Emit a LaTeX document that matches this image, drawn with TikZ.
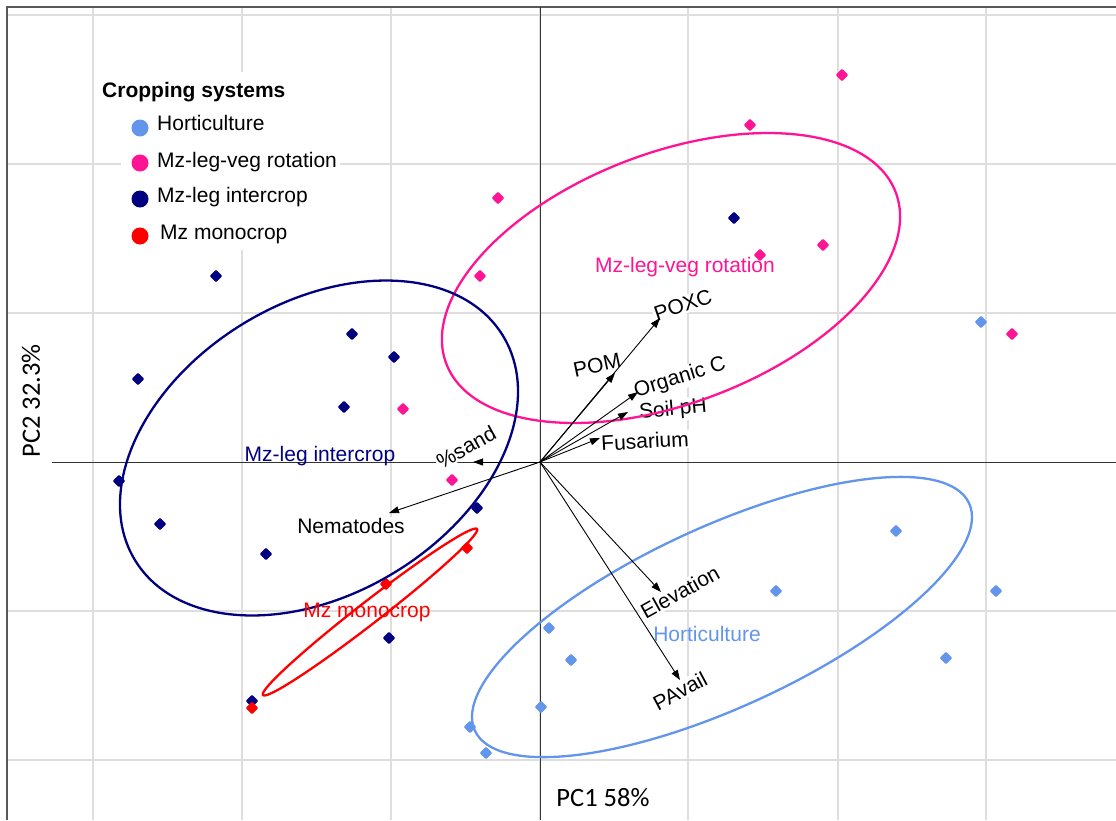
\documentclass[tikz,border=0pt]{standalone}
\usepackage{fontspec}
\setmainfont{Liberation Sans}
\newfontfamily\calibfont{Carlito}
\usetikzlibrary{arrows.meta}
\definecolor{hort}{HTML}{6495ED}
\definecolor{rotc}{HTML}{FF1493}
\definecolor{inter}{HTML}{000080}
\definecolor{mono}{HTML}{FF0000}
\definecolor{gridc}{HTML}{DEDEDE}
\begin{document}
\begin{tikzpicture}[x=1pt,y=-1pt,font=\fontsize{21}{25}\selectfont,
  gridline/.style={gridc,line width=1.5pt},
  axisline/.style={black!80,line width=1pt},
  borderline/.style={black!65,line width=1.6pt},
  vec/.style={-{Triangle[length=10pt,width=7pt]},line width=0.9pt,black},
  vlab/.style={fill=white,inner sep=1.5pt},
  grp/.style={line width=2.3pt},
  mk/.style={rounded corners=0.8pt}]
\useasboundingbox (0,0) rectangle (1116,820);
\clip (0,0) rectangle (1116,820);
\fill[white] (0,0) rectangle (1116,820);
% grid
\foreach \gx in {93,242,391,540,688,838,986}
  \draw[gridline] (\gx,7) -- (\gx,820);
\foreach \gy in {15,164,313,611,760}
  \draw[gridline] (7,\gy) -- (1116,\gy);
% border
\draw[borderline] (7,820) -- (7,7) -- (1116,7);
% axes
\draw[axisline] (52,462) -- (1116,462);
\draw[axisline] (540,7) -- (540,820);
% legend box
\fill[white] (121,72) rectangle (340,250);
\node[anchor=base west,inner sep=0] (legtitle) at (102,97) {\bfseries Cropping systems};
\fill[hort] (140,128) circle (8.5);
\fill[rotc] (140,163) circle (8.5);
\fill[inter] (140,199) circle (8.5);
\fill[mono] (140,236) circle (8.5);
\node[anchor=base west,inner sep=0] (leg1) at (157,130) {Horticulture};
\node[anchor=base west,inner sep=0] (leg2) at (157,167) {Mz-leg-veg rotation};
\node[anchor=base west,inner sep=0] (leg3) at (157,202) {Mz-leg intercrop};
\node[anchor=base west,inner sep=0] (leg4) at (160,239) {Mz monocrop};
% points
\foreach \px/\py in {216/276,352/334,394/357,138/379,344/407,119/481,160/524,266/554,477/508,389/638,252/701,734/218}
  \fill[inter,mk] (\px,\py) +(-6.3,0) -- +(0,-6.3) -- +(6.3,0) -- +(0,6.3) -- cycle;
\foreach \px/\py in {842/75,750/125,498/198,480/276,760/255,823/245,1012/334,403/409,452/480,673/376}
  \fill[rotc,mk] (\px,\py) +(-6.3,0) -- +(0,-6.3) -- +(6.3,0) -- +(0,6.3) -- cycle;
\foreach \px/\py in {467/548,386/584,252/708}
  \fill[mono,mk] (\px,\py) +(-6.3,0) -- +(0,-6.3) -- +(6.3,0) -- +(0,6.3) -- cycle;
\foreach \px/\py in {981/322,896/531,776/591,996/591,946/658,549/628,571/660,541/707,470/727,486/753}
  \fill[hort,mk] (\px,\py) +(-6.3,0) -- +(0,-6.3) -- +(6.3,0) -- +(0,6.3) -- cycle;
% axis titles
\node[fill=white,rotate=90,inner sep=2pt,font=\calibfont\fontsize{26.5}{30}\selectfont] (pc2) at (31,401) {PC2 32.3\%};
\node[inner sep=0,font=\calibfont\fontsize{26.5}{30}\selectfont] (pc1) at (603,798) {PC1 58\%};
% vector labels
\node[vlab,rotate=19] (lPOXC) at (683,305) {POXC};
\node[vlab,rotate=12] (lPOM) at (597,365) {POM};
\node[vlab,rotate=17] (lOrgC) at (680,378) {Organic C};
\node[vlab,rotate=5] (lpH) at (673,410) {Soil pH};
\node[vlab,rotate=3] (lFus) at (645,441) {Fusarium};
\node[vlab,rotate=29] (lsand) at (466,447) {\%sand};
\node[vlab] (lNem) at (351,526) {Nematodes};
\node[vlab,rotate=29] (lElev) at (680,592) {Elevation};
\node[vlab,rotate=28] (lPAv) at (680,691) {PAvail};
% ellipses
\draw[rotc,grp,rotate around={20.9:(671,278)}] (671,278) ellipse [x radius=240.5pt,y radius=125.1pt];
\draw[inter,grp,rotate around={31.4:(319,448)}] (319,448) ellipse [x radius=215.5pt,y radius=145.6pt];
\draw[hort,grp,rotate around={24.7:(722,617)}] (722,617) ellipse [x radius=272pt,y radius=90.2pt];
\draw[mono,grp,rotate around={37.8:(370,612)}] (370,612) ellipse [x radius=135.5pt,y radius=11pt];
% vectors
\coordinate (O) at (540,462);
\coordinate (tPOXC) at (660,318);
\coordinate (tPOM) at (615,373);
\coordinate (tOrgC) at (638,392);
\coordinate (tpH) at (628,412);
\coordinate (tFus) at (600,438);
\coordinate (tsand) at (473,462);
\coordinate (tNem) at (389,513);
\coordinate (tElev) at (661,592);
\coordinate (tPAv) at (680,680);
\foreach \t in {tPOXC,tPOM,tOrgC,tpH,tFus,tsand,tNem,tElev,tPAv}
  \draw[vec] (O) -- (\t);
% group labels
\node[rotc,inner sep=0] (gRot) at (685,267) {Mz-leg-veg rotation};
\node[inter,inner sep=0] (gInt) at (320,456) {Mz-leg intercrop};
\node[mono,inner sep=0] (gMono) at (367,612) {Mz monocrop};
\node[hort,inner sep=0] (gHort) at (707,634) {Horticulture};
\end{tikzpicture}
\end{document}
